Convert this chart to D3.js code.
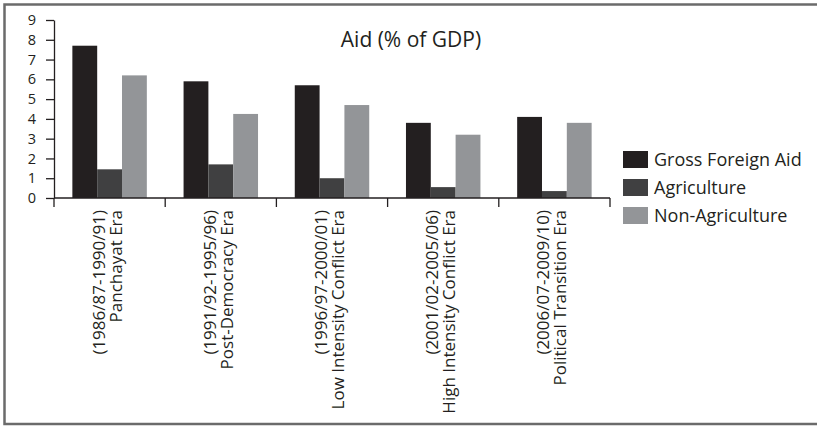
<!DOCTYPE html>
<html>
<head>
<meta charset="utf-8">
<script src="https://cdn.jsdelivr.net/npm/d3@7"></script>
<style>
  html, body { margin: 0; padding: 0; background: #fff; }
  svg { display: block; }
  text { font-family: "Open Sans", sans-serif; fill: #231f20; }
</style>
</head>
<body>
<svg id="chart" width="817" height="426"></svg>
<script>
// Aid as a share of GDP, by political era (five-year averages)
const eras = [
  ["(1986/87-1990/91)", "Panchayat Era"],
  ["(1991/92-1995/96)", "Post-Democracy Era"],
  ["(1996/97-2000/01)", "Low Intensity Conflict Era"],
  ["(2001/02-2005/06)", "High Intensity Conflict Era"],
  ["(2006/07-2009/10)", "Political Transition Era"]
];
const seriesNames = ["Gross Foreign Aid", "Agriculture", "Non-Agriculture"];
const grossForeignAid = [7.7, 5.9, 5.7, 3.8, 4.1];
const agriculture     = [1.45, 1.7, 1.0, 0.55, 0.35];
const nonAgriculture  = [6.2, 4.25, 4.7, 3.2, 3.8];
const yTicks = [0, 1, 2, 3, 4, 5, 6, 7, 8, 9];
const colors = ["#231f20", "#404041", "#939598"];

const seriesValues = [grossForeignAid, agriculture, nonAgriculture];
const eraKeys = eras.map(d => d.join(" "));
const rows = eraKeys.map((k, i) => ({
  key: k,
  values: seriesNames.map((s, j) => ({ series: s, value: seriesValues[j][i], color: colors[j] }))
}));

const svg = d3.select("#chart");

// outer frame (open on the right)
svg.append("rect")
  .attr("x", 4.5).attr("y", 4.5)
  .attr("width", 840).attr("height", 419.5)
  .attr("fill", "none")
  .attr("stroke", "#6b6b6b")
  .attr("stroke-width", 2.5);

const plot = { left: 54, right: 610, top: 20, bottom: 198 };

const x0 = d3.scaleBand().domain(eraKeys).range([plot.left, plot.right]).paddingInner(0).paddingOuter(0);
const x1 = d3.scaleBand().domain(seriesNames).range([0, x0.bandwidth()]).paddingInner(0).paddingOuter(0.74);
const y = d3.scaleLinear().domain([0, 9]).range([plot.bottom, plot.top]);

// bars
const groups = svg.append("g").selectAll("g").data(rows).join("g")
  .attr("transform", d => `translate(${x0(d.key)},0)`);
groups.selectAll("rect").data(d => d.values).join("rect")
  .attr("x", d => x1(d.series))
  .attr("y", d => y(d.value))
  .attr("width", x1.bandwidth())
  .attr("height", d => y(0) - y(d.value))
  .attr("fill", d => d.color);

// y axis
const yAxis = svg.append("g")
  .attr("transform", `translate(${plot.left},0)`)
  .call(d3.axisLeft(y).tickValues(yTicks).tickFormat(d3.format("d")).tickSize(8).tickPadding(10).tickSizeOuter(0));
yAxis.selectAll("text").attr("font-size", 14.5).attr("font-family", "Open Sans, sans-serif").attr("fill", "#231f20");
yAxis.selectAll("line, path").attr("stroke", "#231f20").attr("stroke-width", 1.3);

// x axis: ticks at category boundaries
const boundaries = eraKeys.map(k => x0(k)).concat([plot.right]);
const xAxis = svg.append("g").attr("transform", `translate(0,${plot.bottom})`);
xAxis.append("line")
  .attr("x1", plot.left).attr("x2", plot.right)
  .attr("stroke", "#231f20").attr("stroke-width", 1.3);
xAxis.selectAll("line.tick").data(boundaries).join("line")
  .attr("class", "tick")
  .attr("x1", d => d).attr("x2", d => d)
  .attr("y1", 0).attr("y2", 9)
  .attr("stroke", "#231f20").attr("stroke-width", 1.3);

// rotated two-line category labels
const labels = svg.append("g").selectAll("text").data(eras).join("text")
  .attr("transform", (d, i) => `translate(${x0(eraKeys[i]) + x0.bandwidth() / 2 - 1},210) rotate(-90)`)
  .attr("text-anchor", "end")
  .attr("font-size", 17);
labels.selectAll("tspan").data(d => d).join("tspan")
  .attr("x", 0)
  .attr("y", (d, j) => j === 0 ? -4 : 13)
  .text(d => d);

// title
svg.append("text")
  .attr("x", 411).attr("y", 47)
  .attr("text-anchor", "middle")
  .attr("font-size", 21)
  .text("Aid (% of GDP)");

// legend
const legend = svg.append("g").attr("transform", "translate(623,151)");
const items = legend.selectAll("g").data(seriesNames).join("g")
  .attr("transform", (d, i) => `translate(0,${i * 28})`);
items.append("rect").attr("width", 25).attr("height", 17).attr("fill", (d, i) => colors[i]);
items.append("text").attr("x", 31).attr("y", 8.5).attr("dy", "0.35em")
  .attr("font-size", 18).text(d => d);
</script>
</body>
</html>
